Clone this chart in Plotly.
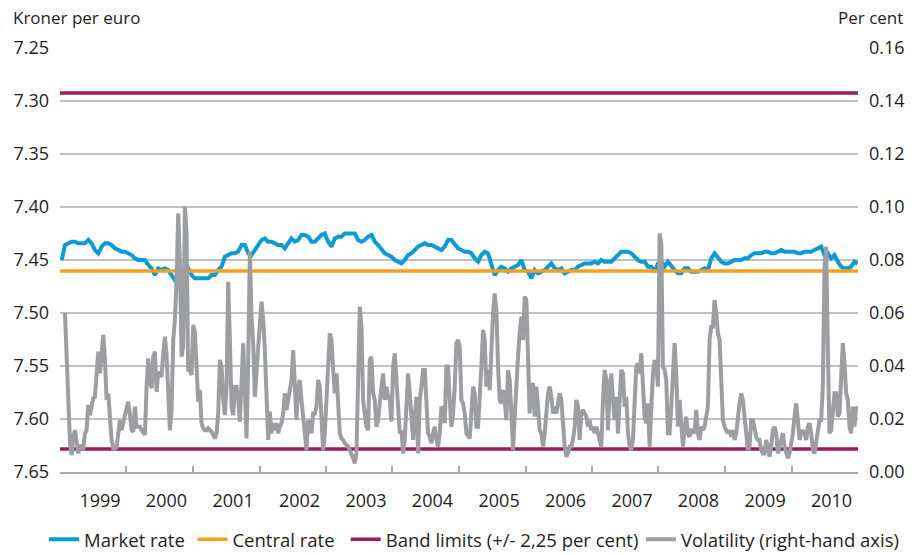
import pandas as pd
import plotly.graph_objects as go

# Danish krone vs euro, ERM II band, 1999-2010
SERIES_START = "1999-01-10"
SERIES_END = "2010-12-31"
AXIS_START = "1999-01-01"
AXIS_END = "2011-01-01"

YEARS = list(range(1999, 2011))

CENTRAL_RATE = 7.46038
BAND_LOWER = 7.29252
BAND_UPPER = 7.62824

# Market rate, kroner per euro (evenly spaced through the period)
MARKET_RATE = [
    7.4500, 7.4359, 7.4343, 7.4327, 7.4327, 7.4343, 7.4343, 7.4343, 7.4311, 7.4343,
    7.4406, 7.4437, 7.4374, 7.4343, 7.4343, 7.4359, 7.4390, 7.4406, 7.4421, 7.4421,
    7.4437, 7.4453, 7.4484, 7.4500, 7.4500, 7.4500, 7.4547, 7.4579, 7.4642, 7.4579,
    7.4595, 7.4579, 7.4595, 7.4642, 7.4689, 7.4642, 7.4595, 7.4626, 7.4579, 7.4642,
    7.4673, 7.4673, 7.4673, 7.4673, 7.4673, 7.4642, 7.4642, 7.4595, 7.4563, 7.4469,
    7.4453, 7.4437, 7.4437, 7.4421, 7.4359, 7.4359, 7.4437, 7.4453, 7.4406,
    7.4359, 7.4311, 7.4296, 7.4327, 7.4327, 7.4343, 7.4359, 7.4359, 7.4390, 7.4343,
    7.4296, 7.4327, 7.4311, 7.4264, 7.4264, 7.4280, 7.4327, 7.4327, 7.4296, 7.4264,
    7.4249, 7.4327, 7.4374, 7.4296, 7.4280, 7.4280, 7.4249, 7.4249, 7.4249, 7.4249,
    7.4311, 7.4327, 7.4311, 7.4280, 7.4264, 7.4327, 7.4359, 7.4406, 7.4437, 7.4453,
    7.4469, 7.4500, 7.4516, 7.4532, 7.4500, 7.4453, 7.4437, 7.4406, 7.4374, 7.4359,
    7.4343, 7.4359, 7.4359, 7.4374, 7.4390, 7.4406, 7.4374, 7.4311, 7.4311, 7.4359,
    7.4390, 7.4406, 7.4421, 7.4421, 7.4437, 7.4484, 7.4516, 7.4453, 7.4421, 7.4437,
    7.4532, 7.4642, 7.4595, 7.4563, 7.4579, 7.4610, 7.4579, 7.4563, 7.4547, 7.4500,
    7.4595, 7.4610, 7.4673, 7.4595, 7.4626, 7.4610, 7.4595, 7.4563, 7.4532, 7.4579,
    7.4595, 7.4579, 7.4626, 7.4610, 7.4595, 7.4595, 7.4563, 7.4547, 7.4532, 7.4532,
    7.4532, 7.4516, 7.4532, 7.4500, 7.4516, 7.4516, 7.4516, 7.4484, 7.4453, 7.4421,
    7.4421, 7.4421, 7.4437, 7.4469, 7.4500, 7.4516, 7.4516, 7.4563, 7.4563, 7.4610,
    7.4532, 7.4516, 7.4563, 7.4516, 7.4563, 7.4595, 7.4626, 7.4626, 7.4579, 7.4579,
    7.4610, 7.4610, 7.4610, 7.4595, 7.4579, 7.4595, 7.4484, 7.4437, 7.4484, 7.4516,
    7.4532, 7.4532, 7.4516, 7.4500, 7.4500, 7.4500, 7.4484, 7.4484, 7.4453, 7.4437,
    7.4437, 7.4437, 7.4421, 7.4421, 7.4437, 7.4437, 7.4421, 7.4406, 7.4421, 7.4421,
    7.4421, 7.4421, 7.4437, 7.4437, 7.4421, 7.4421, 7.4421, 7.4406, 7.4390, 7.4374,
    7.4453, 7.4437, 7.4484, 7.4453, 7.4516, 7.4563, 7.4579, 7.4579, 7.4563, 7.4516,
    7.4532,
]

# Volatility, per cent (right-hand axis), evenly spaced through the period
VOLATILITY = [
    None, None, 0.0601, 0.0460, 0.0272, 0.0114, 0.0064, 0.0133, 0.0158, 0.0121,
    0.0070, 0.0102, 0.0089, 0.0089, 0.0146, 0.0158, 0.0253, 0.0215, 0.0259, 0.0278,
    0.0284, 0.0398, 0.0454, 0.0372, 0.0473, 0.0517, 0.0423, 0.0272, 0.0297, 0.0209,
    0.0121, 0.0089, 0.0089, 0.0093, 0.0146, 0.0196, 0.0158, 0.0196, 0.0215, 0.0240,
    0.0265, 0.0215, 0.0158, 0.0152, 0.0247, 0.0171, 0.0171, 0.0171, 0.0158, 0.0146,
    0.0140, 0.0322, 0.0429, 0.0347, 0.0316, 0.0435, 0.0454, 0.0303, 0.0379, 0.0366,
    0.0360, 0.0448, 0.0511, 0.0442, 0.0272, 0.0158, 0.0234, 0.0498, 0.0574, 0.0725,
    0.0976, 0.0788, 0.0435, 0.0473, 0.1001, 0.0901, 0.0379, 0.0385, 0.0366, 0.0555,
    0.0530, 0.0372, 0.0265, 0.0309, 0.0184, 0.0165, 0.0158, 0.0158, 0.0165, 0.0158,
    0.0152, 0.0140, 0.0127, 0.0146, 0.0221, 0.0423, 0.0398, 0.0272, 0.0215, 0.0322,
    0.0718, 0.0498, 0.0247, 0.0215, 0.0322, 0.0322, 0.0272, 0.0190, 0.0360, 0.0486,
    0.0322, 0.0127, 0.0410, 0.0832, 0.0586, 0.0486, 0.0284,
    0.0398, 0.0498, 0.0561, 0.0643, 0.0574, 0.0460, 0.0272, 0.0121, 0.0228, 0.0146,
    0.0184, 0.0158, 0.0184, 0.0146, 0.0171, 0.0184, 0.0221, 0.0297, 0.0234, 0.0272,
    0.0297, 0.0347, 0.0460, 0.0322, 0.0196, 0.0322, 0.0347, 0.0272, 0.0209, 0.0146,
    0.0083, 0.0196, 0.0171, 0.0146, 0.0221, 0.0221, 0.0247, 0.0347, 0.0322, 0.0171,
    0.0083, 0.0146, 0.0247, 0.0398, 0.0523, 0.0498, 0.0385, 0.0297, 0.0372, 0.0272,
    0.0146, 0.0127, 0.0121, 0.0108, 0.0102, 0.0096, 0.0083, 0.0070, 0.0052, 0.0033,
    0.0070, 0.0347, 0.0624, 0.0548, 0.0272, 0.0221, 0.0171, 0.0158, 0.0423, 0.0435,
    0.0297, 0.0272, 0.0171, 0.0196, 0.0272, 0.0322, 0.0372, 0.0272, 0.0322, 0.0284,
    0.0272, 0.0190, 0.0398, 0.0448, 0.0347, 0.0221, 0.0146, 0.0158, 0.0070, 0.0121,
    0.0272, 0.0372, 0.0297, 0.0196, 0.0121, 0.0209, 0.0284, 0.0070, 0.0272, 0.0322,
    0.0385, 0.0385, 0.0272, 0.0146, 0.0133, 0.0108, 0.0146, 0.0171, 0.0121, 0.0096,
    0.0146, 0.0247, 0.0234, 0.0184, 0.0398, 0.0398, 0.0272, 0.0171, 0.0221, 0.0322,
    0.0486, 0.0498, 0.0473, 0.0272, 0.0259, 0.0221, 0.0146, 0.0133, 0.0127, 0.0221,
    0.0322, 0.0297, 0.0171, 0.0171, 0.0272, 0.0398, 0.0536, 0.0498, 0.0322, 0.0385,
    0.0309, 0.0498, 0.0599, 0.0674, 0.0611, 0.0398, 0.0272, 0.0259, 0.0309, 0.0272,
    0.0196, 0.0385, 0.0347, 0.0221, 0.0083, 0.0209, 0.0360, 0.0435, 0.0523, 0.0586,
    0.0498, 0.0662, 0.0649, 0.0473, 0.0221, 0.0322, 0.0335, 0.0209, 0.0322, 0.0247,
    0.0158, 0.0146, 0.0096, 0.0146, 0.0247, 0.0297, 0.0322, 0.0284, 0.0221, 0.0247,
    0.0221, 0.0272, 0.0297, 0.0272, 0.0146, 0.0096, 0.0058, 0.0070, 0.0096, 0.0096,
    0.0121, 0.0171, 0.0272, 0.0247, 0.0121, 0.0221, 0.0234, 0.0221, 0.0209, 0.0171,
    0.0196, 0.0158, 0.0171, 0.0146, 0.0171, 0.0146, 0.0121, 0.0096, 0.0272, 0.0385,
    0.0347, 0.0158, 0.0322, 0.0372, 0.0272, 0.0196, 0.0284, 0.0146, 0.0272, 0.0385,
    0.0372, 0.0247, 0.0284, 0.0146, 0.0096, 0.0083, 0.0121, 0.0247, 0.0398, 0.0410,
    0.0372, 0.0448, 0.0322, 0.0209, 0.0184, 0.0259, 0.0096, 0.0259, 0.0372, 0.0423,
    0.0398, 0.0322, 0.0901, 0.0863, 0.0398, 0.0385, 0.0347, 0.0146, 0.0146, 0.0247,
    0.0372, 0.0486, 0.0372, 0.0171, 0.0272, 0.0146, 0.0096, 0.0158, 0.0209, 0.0146,
    0.0133, 0.0158, 0.0158, 0.0146, 0.0234, 0.0146, 0.0121, 0.0171, 0.0158, 0.0171,
    0.0209, 0.0247, 0.0498, 0.0548, 0.0548, 0.0649, 0.0599, 0.0523, 0.0498, 0.0322,
    0.0196, 0.0171, 0.0158, 0.0146, 0.0158, 0.0133, 0.0158, 0.0121, 0.0146, 0.0209,
    0.0259, 0.0297, 0.0272, 0.0209, 0.0121, 0.0083, 0.0096, 0.0196, 0.0196, 0.0158,
    0.0133, 0.0121, 0.0121, 0.0083, 0.0070, 0.0070, 0.0121, 0.0096, 0.0058, 0.0096,
    0.0158, 0.0171, 0.0146, 0.0070, 0.0096, 0.0121, 0.0146, 0.0096, 0.0070, 0.0052,
    0.0070, 0.0108, 0.0146, 0.0209, 0.0259, 0.0196, 0.0121, 0.0146, 0.0158, 0.0146,
    0.0121, 0.0171, 0.0184, 0.0146, 0.0083, 0.0070, 0.0121, 0.0158, 0.0196, 0.0196,
    0.0322, 0.0775, 0.0850, 0.0460, 0.0146, 0.0158, 0.0221, 0.0297, 0.0297, 0.0209,
    0.0221, 0.0372, 0.0486, 0.0410, 0.0297, 0.0272, 0.0171, 0.0146, 0.0247, 0.0171,
    0.0247, 0.0234,
]

BLUE = "#0a9bd7"
ORANGE = "#f6a01e"
PLUM = "#9c1a5e"
GREY = "#9d9ea2"
GRID = "#c0c0c0"
AXIS = "#a8a8a8"
TEXT = "#1e1e1e"
FONT = "Open Sans, Noto Sans, sans-serif"

market_dates = pd.date_range(SERIES_START, SERIES_END, periods=len(MARKET_RATE))
vol_dates = pd.date_range(SERIES_START, SERIES_END, periods=len(VOLATILITY))

fig = go.Figure()
fig.add_trace(go.Scatter(
    x=market_dates, y=MARKET_RATE, name="Market rate", mode="lines",
    line=dict(color=BLUE, width=4), legend="legend",
))
fig.add_trace(go.Scatter(
    x=[AXIS_START, AXIS_END], y=[CENTRAL_RATE, CENTRAL_RATE], name="Central rate",
    mode="lines", line=dict(color=ORANGE, width=3.5), legend="legend2",
))
fig.add_trace(go.Scatter(
    x=[AXIS_START, AXIS_END, None, AXIS_START, AXIS_END],
    y=[BAND_LOWER, BAND_LOWER, None, BAND_UPPER, BAND_UPPER],
    name="Band limits (+/- 2,25 per cent)", mode="lines",
    line=dict(color=PLUM, width=3.5), legend="legend3",
))
fig.add_trace(go.Scatter(
    x=vol_dates, y=VOLATILITY, name="Volatility (right-hand axis)", mode="lines",
    line=dict(color=GREY, width=4), yaxis="y2", connectgaps=False, legend="legend4",
))

tick_dates = [f"{y}-01-01" for y in YEARS] + [AXIS_END]
tick_text = [str(y) for y in YEARS] + [""]


def legend_box(x):
    return dict(
        orientation="h", x=x, xanchor="left", y=-0.160, yanchor="middle",
        font=dict(size=18.5, color=TEXT), itemwidth=30, bgcolor="rgba(0,0,0,0)",
    )


fig.update_layout(
    width=914,
    height=555,
    margin=dict(l=60, r=56, t=48, b=83, autoexpand=False),
    paper_bgcolor="white",
    plot_bgcolor="white",
    font=dict(family=FONT, size=18, color=TEXT),
    showlegend=True,
    legend=legend_box(-0.020),
    legend2=legend_box(0.166),
    legend3=legend_box(0.358),
    legend4=legend_box(0.728),
    xaxis=dict(
        type="date", range=[AXIS_START, AXIS_END],
        tickmode="array", tickvals=tick_dates, ticktext=tick_text,
        ticks="inside", ticklen=6, tickwidth=1.5, tickcolor=AXIS,
        ticklabelshift=40, ticklabelstandoff=12,
        showline=True, linecolor=AXIS, linewidth=1.5,
        showgrid=False, zeroline=False,
    ),
    yaxis=dict(
        range=[7.65, 7.25], dtick=0.05, tick0=7.25, tickformat=".2f",
        showgrid=True, gridcolor=GRID, gridwidth=1.5,
        zeroline=False, showline=False, ticks="", ticklabelstandoff=10,
    ),
    yaxis2=dict(
        range=[0, 0.16], dtick=0.02, tick0=0, tickformat=".2f",
        overlaying="y", side="right", showgrid=False, zeroline=False,
        showline=False, ticks="", ticklabelstandoff=10,
    ),
    annotations=[
        dict(text="Kroner per euro", xref="paper", yref="paper", x=-0.062, y=1.071,
             xanchor="left", yanchor="middle", showarrow=False, font=dict(size=17)),
        dict(text="Per cent", xref="paper", yref="paper", x=1.059, y=1.071,
             xanchor="right", yanchor="middle", showarrow=False, font=dict(size=17)),
    ],
)

# the page's default body margin would push the fixed-size figure out of the window
fig.write_html(
    "out.html",
    config={"displayModeBar": False},
    post_script="document.body.style.margin='0';",
)
